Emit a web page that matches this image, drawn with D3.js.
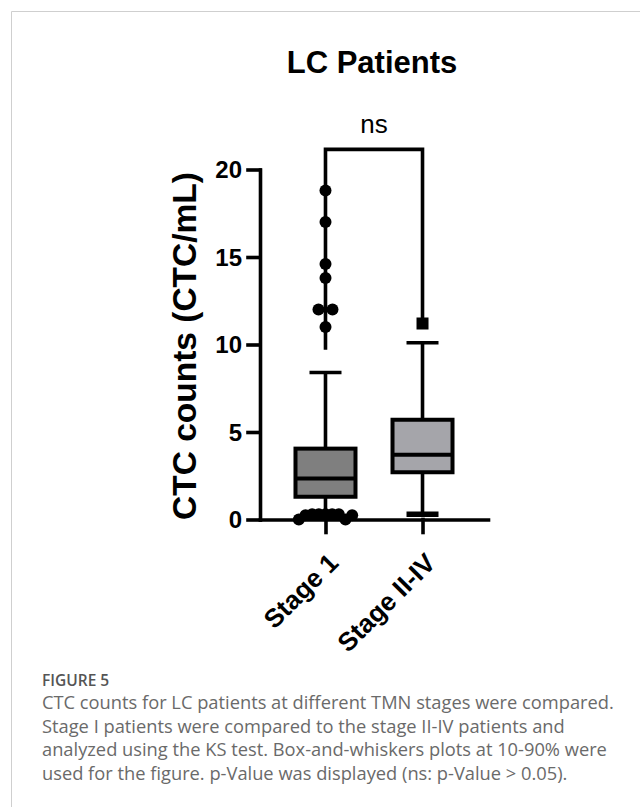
<!DOCTYPE html>
<html>
<head>
<meta charset="utf-8">
<script src="https://cdn.jsdelivr.net/npm/d3@7"></script>
<style>
  html, body { margin: 0; padding: 0; background: #fff; }
  svg { display: block; }
  .bold { font-family: "Liberation Sans", Arial, sans-serif; font-weight: bold; fill: #000; }
  .caption { font-family: "Open Sans", sans-serif; fill: #6a6a6a; }
</style>
</head>
<body>
<svg id="chart" width="640" height="807"></svg>
<script>
// data
var categories = ['Stage 1', 'Stage II-IV'];
var p10 = [0.3, 0.3];
var q1 = [1.3, 2.7];
var median = [2.35, 3.7];
var q3 = [4.05, 5.7];
var p90 = [8.4, 10.1];
// points outside 10-90%, listed left to right where they share a level
var outliersStage1 = [18.8, 17.0, 14.6, 13.8, 12.0, 12.0, 11.0, 0, 0.25, 0.3, 0.3, 0.3, 0.3, 0.3, 0, 0.25];
var outliersStage2 = [11.2];
var yTicks = [0, 5, 10, 15, 20];
var bracketTop = 21.15;
var bracketLegEnds = [9.7, 11.4];
var sigLabel = 'ns';
var fills = ['#7f7f7f', '#a5a5aa'];

var captionHead = 'FIGURE 5';
var captionLines = [
  'CTC counts for LC patients at different TMN stages were compared.',
  'Stage I patients were compared to the stage II-IV patients and',
  'analyzed using the KS test. Box-and-whiskers plots at 10-90% were',
  'used for the figure. p-Value was displayed (ns: p-Value > 0.05).'
];

var svg = d3.select('#chart');
var lw = 3.6;

// card outline
svg.append('path')
  .attr('d', 'M11.5,820 V11.5 H660')
  .attr('fill', 'none')
  .attr('stroke', '#cfcfcf')
  .attr('stroke-width', 1);

var x = d3.scalePoint().domain(categories).range([260, 488]).padding(0.675);
var y = d3.scaleLinear().domain([0, 20]).range([519.5, 169.5]);

svg.append('text').attr('class', 'bold')
  .attr('x', 372).attr('y', 73)
  .attr('text-anchor', 'middle')
  .style('font-size', '31px')
  .text('LC Patients');

svg.append('text').attr('class', 'bold')
  .attr('transform', 'translate(196,346) rotate(-90)')
  .attr('text-anchor', 'middle')
  .style('font-size', '33.5px')
  .text('CTC counts (CTC/mL)');

// axes
var yAxis = svg.append('g')
  .attr('transform', 'translate(260,0)')
  .call(d3.axisLeft(y).tickValues(yTicks).tickSize(12).tickSizeOuter(0).tickPadding(6));

var xAxis = svg.append('g')
  .attr('transform', 'translate(0,' + y(0) + ')')
  .call(d3.axisBottom(x).tickSize(13).tickSizeOuter(0).tickFormat(''));

[yAxis, xAxis].forEach(function(a) {
  a.selectAll('path, line').attr('stroke', '#000').attr('stroke-width', lw).attr('stroke-linecap', 'square');
});
yAxis.selectAll('text').attr('class', 'bold').attr('fill', '#000')
  .style('font-size', '24px').attr('dy', '0.35em');

xAxis.selectAll('.tick').append('text')
  .attr('class', 'bold')
  .attr('text-anchor', 'end')
  .attr('transform', 'translate(14,45) rotate(-45)')
  .style('font-size', '26px')
  .text(function(d) { return d; });

// significance bracket
var bracket = d3.line()([
  [x(categories[0]), y(bracketLegEnds[0])],
  [x(categories[0]), y(bracketTop)],
  [x(categories[1]), y(bracketTop)],
  [x(categories[1]), y(bracketLegEnds[1])]
]);
svg.append('path').attr('d', bracket)
  .attr('fill', 'none').attr('stroke', '#000').attr('stroke-width', lw);

svg.append('text')
  .attr('x', (x(categories[0]) + x(categories[1])) / 2)
  .attr('y', 133)
  .attr('text-anchor', 'middle')
  .style('font-family', '"Liberation Sans", Arial, sans-serif')
  .style('font-size', '26px')
  .text(sigLabel);

// boxes
var boxW = 60, capW = 32;
categories.forEach(function(c, i) {
  var cx = x(c);
  var g = svg.append('g').attr('stroke', '#000').attr('stroke-width', lw);
  g.append('line').attr('x1', cx).attr('x2', cx).attr('y1', y(q3[i])).attr('y2', y(p90[i]));
  g.append('line').attr('x1', cx).attr('x2', cx).attr('y1', y(q1[i])).attr('y2', y(p10[i]));
  g.append('line').attr('x1', cx - capW / 2).attr('x2', cx + capW / 2).attr('y1', y(p90[i])).attr('y2', y(p90[i]));
  g.append('line').attr('x1', cx - capW / 2).attr('x2', cx + capW / 2).attr('y1', y(p10[i])).attr('y2', y(p10[i]))
    .attr('stroke-width', i === 1 ? 5.5 : lw);
  g.append('rect')
    .attr('x', cx - boxW / 2).attr('width', boxW)
    .attr('y', y(q3[i])).attr('height', y(q1[i]) - y(q3[i]))
    .attr('fill', fills[i]).attr('stroke-width', 4);
  g.append('line').attr('x1', cx - boxW / 2).attr('x2', cx + boxW / 2)
    .attr('y1', y(median[i])).attr('y2', y(median[i])).attr('stroke-width', 4);
});

// spread points that sit at about the same level
function spread(vals) {
  var out = [], group = [];
  function flush() {
    var n = group.length, step = Math.min(14, 60 / n);
    group.forEach(function(v, k) { out.push({ v: v, dx: (k - (n - 1) / 2) * step }); });
    group = [];
  }
  vals.forEach(function(v) {
    if (group.length && Math.abs(v - group[0]) >= 0.7) flush();
    group.push(v);
  });
  if (group.length) flush();
  return out;
}

svg.append('g').selectAll('circle')
  .data(spread(outliersStage1))
  .join('circle')
  .attr('cx', function(d) { return x(categories[0]) + d.dx; })
  .attr('cy', function(d) { return y(d.v); })
  .attr('r', 6)
  .attr('fill', '#000');

svg.append('g').selectAll('rect')
  .data(spread(outliersStage2))
  .join('rect')
  .attr('x', function(d) { return x(categories[1]) + d.dx - 6; })
  .attr('y', function(d) { return y(d.v) - 6; })
  .attr('width', 12).attr('height', 12)
  .attr('fill', '#000');

// caption
svg.append('text').attr('class', 'caption')
  .attr('x', 42).attr('y', 686)
  .style('font-size', '15.5px').style('font-weight', 600)
  .style('fill', '#555')
  .text(captionHead);

svg.append('g').selectAll('text')
  .data(captionLines)
  .join('text')
  .attr('class', 'caption')
  .attr('x', 42)
  .attr('y', function(d, i) { return 709 + i * 23.5; })
  .style('font-size', '18.3px')
  .text(function(d) { return d; });
</script>
</body>
</html>
